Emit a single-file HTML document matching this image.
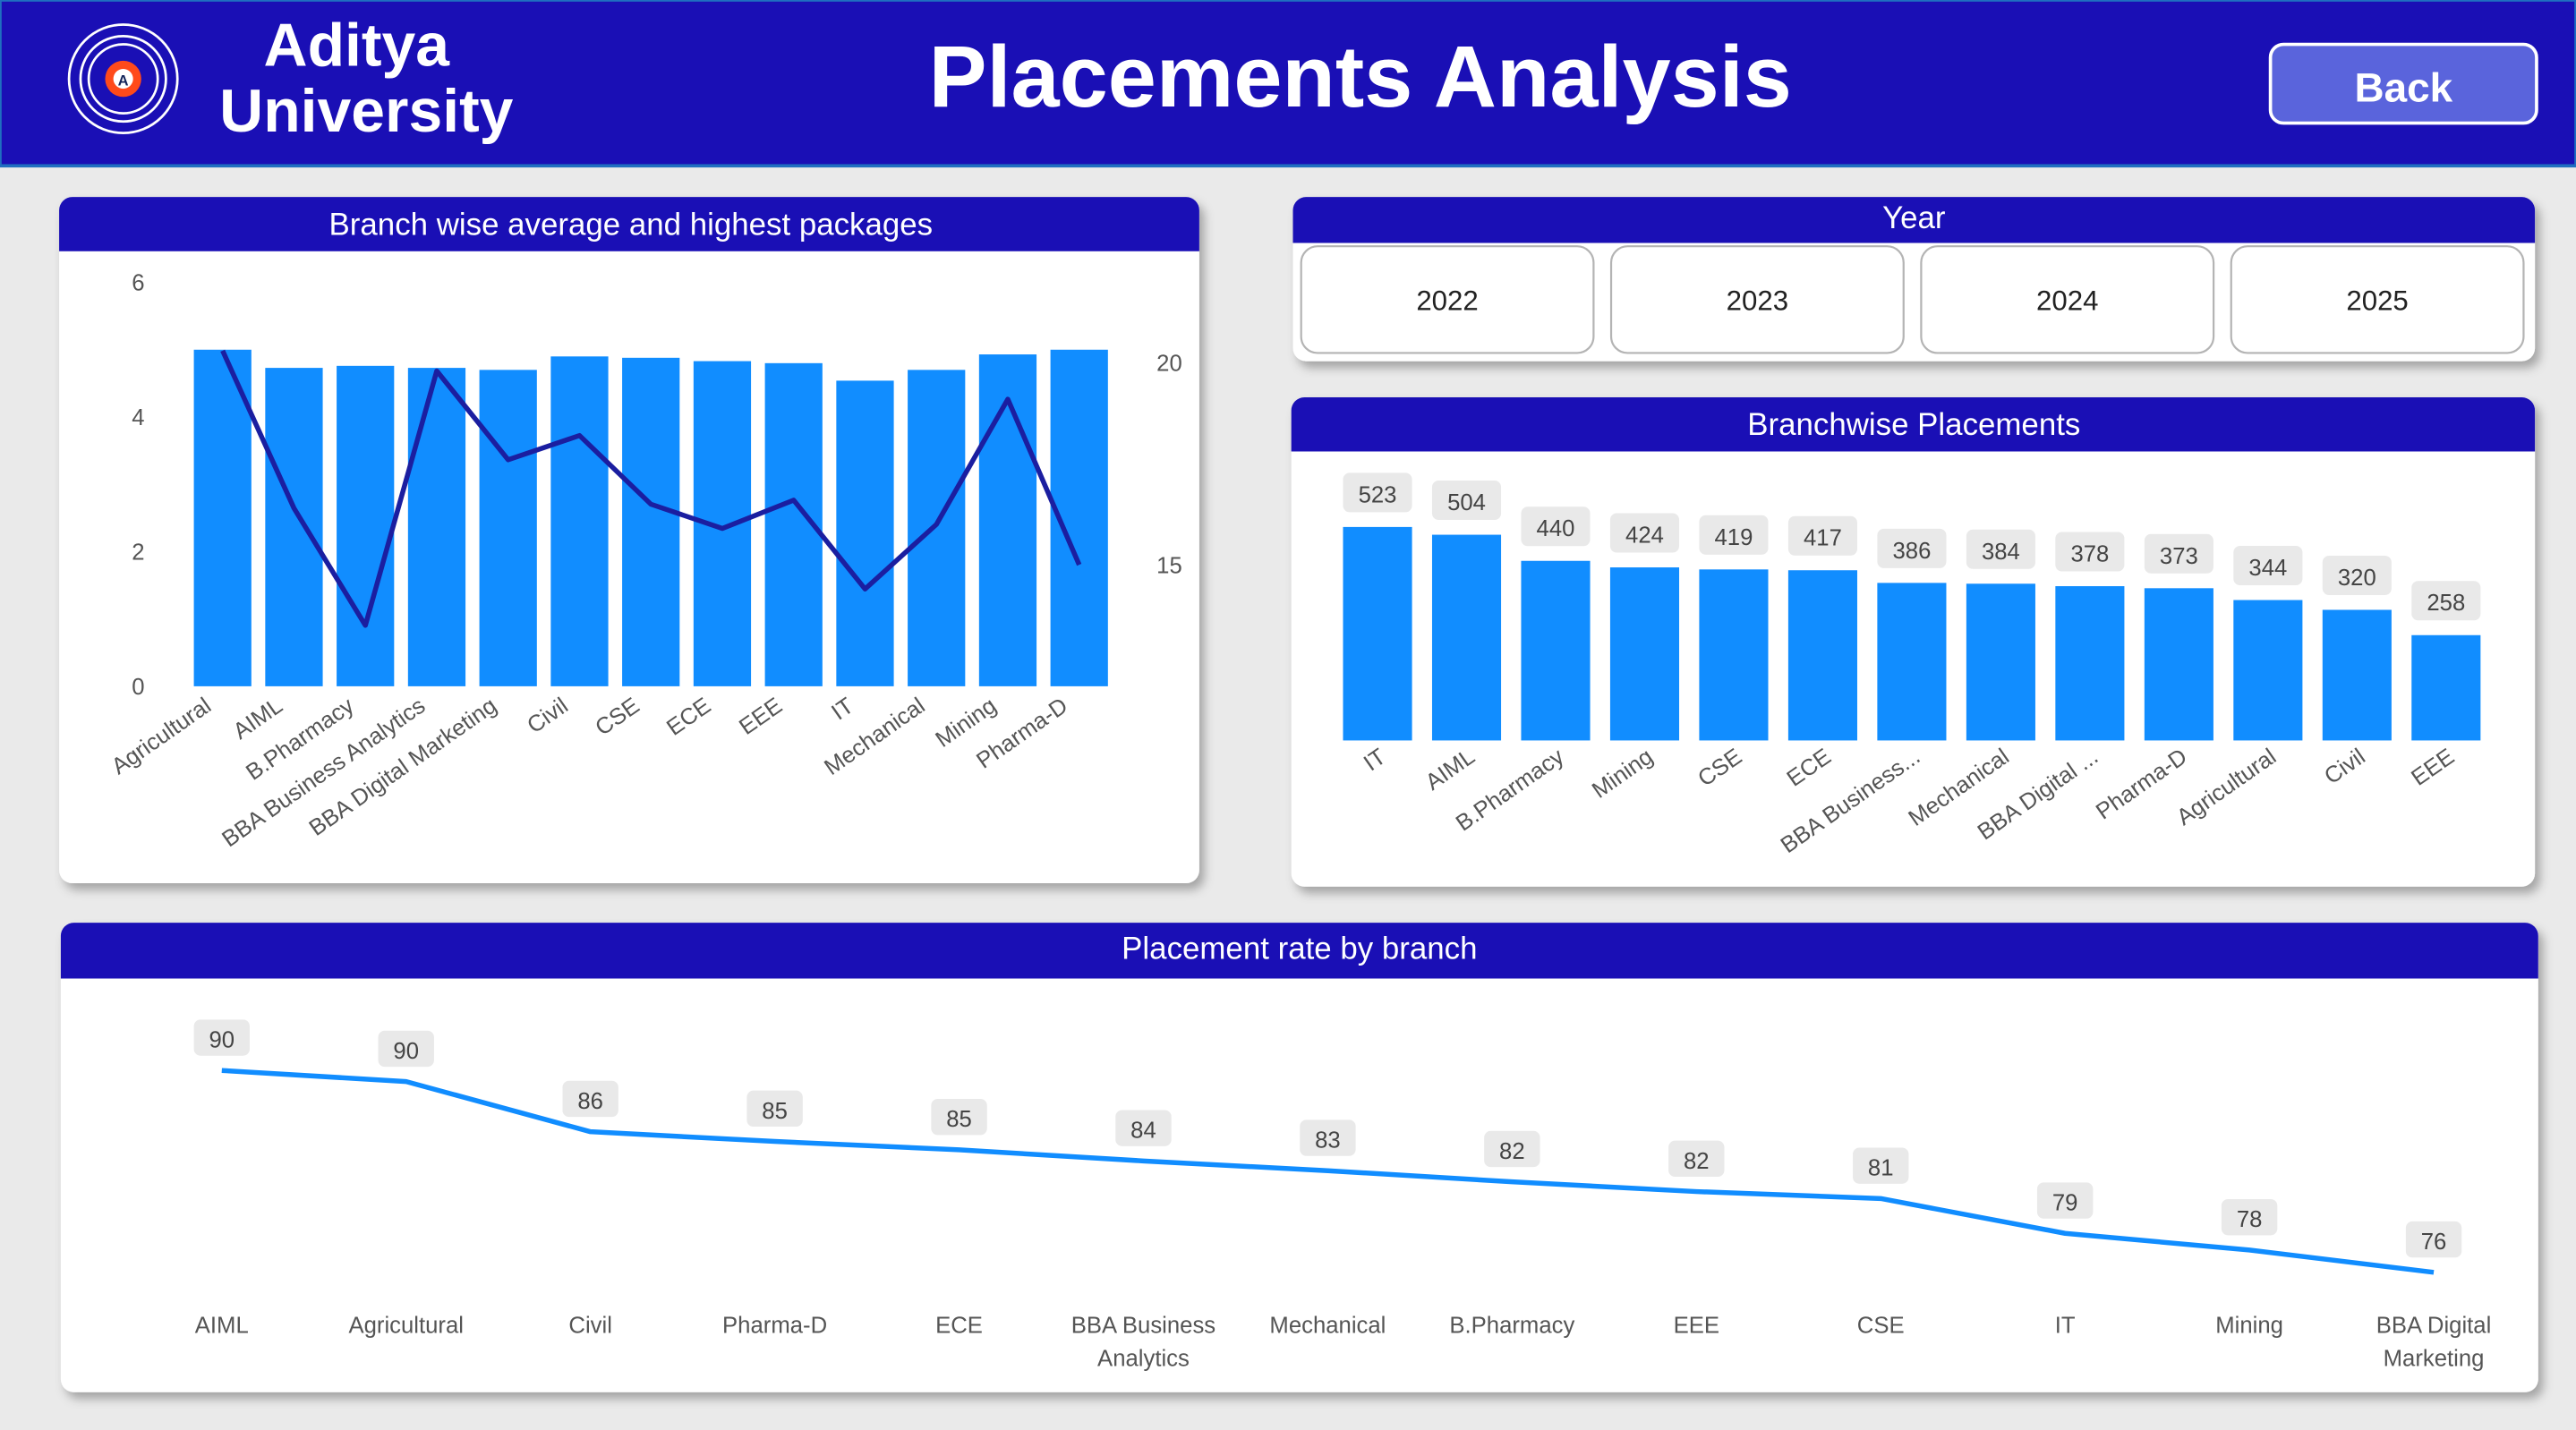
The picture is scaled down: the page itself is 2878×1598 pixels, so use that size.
<!DOCTYPE html>
<html><head><meta charset="utf-8"><style>
html,body{margin:0;padding:0;background:#eaeaea;overflow:hidden}
svg{display:block;font-family:"Liberation Sans","DejaVu Sans",sans-serif}
</style></head><body>
<svg id="s" width="2878" height="1598" viewBox="0 0 1568 871" preserveAspectRatio="none" xmlns="http://www.w3.org/2000/svg">
<defs><filter id="sh" x="-5%" y="-5%" width="110%" height="115%"><feDropShadow dx="3" dy="4" stdDeviation="3" flood-color="#000" flood-opacity="0.3"/></filter></defs>
<rect x="0" y="0" width="1568" height="871" fill="#eaeaea"/>
<g>
<rect x="0" y="0" width="1568" height="101" fill="#1a0fb5" stroke="#1f6fc0" stroke-width="2"/>
<g fill="none" stroke="#fff" stroke-width="1.5">
<circle cx="75" cy="48" r="33"/><circle cx="75" cy="48" r="26"/><circle cx="75" cy="48" r="21"/>
<circle cx="75" cy="48" r="11" fill="#ff4a1a" stroke="none"/><circle cx="75" cy="48" r="6" fill="#fff" stroke="none"/>
<text x="75" y="52" font-size="9" font-weight="bold" fill="#12245a" stroke="none" text-anchor="middle">A</text>
</g>
<text x="217" y="40" font-size="37" font-weight="bold" fill="#fff" text-anchor="middle">Aditya</text>
<text x="223" y="80" font-size="37" font-weight="bold" fill="#fff" text-anchor="middle">University</text>
<text x="828" y="65" font-size="53" font-weight="bold" fill="#fff" text-anchor="middle">Placements Analysis</text>
<g>
<rect x="1382" y="27" width="162" height="48" rx="8" fill="#5a64dc" stroke="#fff" stroke-width="2"/>
<text x="1463" y="62" font-size="25" font-weight="bold" fill="#fff" text-anchor="middle">Back</text></g>
</g>

<g>
<rect x="36" y="120" width="694" height="418" rx="8" fill="#fff" filter="url(#sh)"/>
<path d="M36 153 V128 a8 8 0 0 1 8 -8 H722 a8 8 0 0 1 8 8 V153 Z" fill="#1a0fb5"/>
<text x="384" y="143" font-size="19" fill="#fff" text-anchor="middle">Branch wise average and highest packages</text>
<g id="c1"></g></g>

<g>
<rect x="787" y="120" width="756" height="100" rx="8" fill="#fff" filter="url(#sh)"/>
<path d="M787 148 V128 a8 8 0 0 1 8 -8 H1535 a8 8 0 0 1 8 8 V148 Z" fill="#1a0fb5"/>
<text x="1165" y="139" font-size="19" fill="#fff" text-anchor="middle">Year</text>
<g id="yrs"></g></g>

<g>
<rect x="786" y="242" width="757" height="298" rx="8" fill="#fff" filter="url(#sh)"/>
<path d="M786 275 V250 a8 8 0 0 1 8 -8 H1535 a8 8 0 0 1 8 8 V275 Z" fill="#1a0fb5"/>
<text x="1165" y="265" font-size="19" fill="#fff" text-anchor="middle">Branchwise Placements</text>
<g id="c2"></g></g>

<g>
<rect x="37" y="562" width="1508" height="286" rx="8" fill="#fff" filter="url(#sh)"/>
<path d="M37 596 V570 a8 8 0 0 1 8 -8 H1537 a8 8 0 0 1 8 8 V596 Z" fill="#1a0fb5"/>
<text x="791" y="584" font-size="19" fill="#fff" text-anchor="middle">Placement rate by branch</text>
<g id="c3"></g></g>
</svg>
<script>
const c1Cats=["Agricultural","AIML","B.Pharmacy","BBA Business Analytics","BBA Digital Marketing","Civil","CSE","ECE","EEE","IT","Mechanical","Mining","Pharma-D"];
const c1Avg=[5.0,4.73,4.76,4.73,4.7,4.9,4.88,4.83,4.8,4.54,4.7,4.93,5.0];
const c1High=[20.3,16.4,13.5,19.8,17.6,18.2,16.5,15.9,16.6,14.4,16.0,19.1,15.0];
const c1LeftTicks=[0,2,4,6];
const c1RightTicks=[15,20];
const c2Cats=["IT","AIML","B.Pharmacy","Mining","CSE","ECE","BBA Business...","Mechanical","BBA Digital ...","Pharma-D","Agricultural","Civil","EEE"];
const c2Vals=[523,504,440,424,419,417,386,384,378,373,344,320,258];
const c3Cats=["AIML","Agricultural","Civil","Pharma-D","ECE","BBA Business|Analytics","Mechanical","B.Pharmacy","EEE","CSE","IT","Mining","BBA Digital|Marketing"];
const c3Vals=[90.4,89.6,86.0,85.3,84.7,83.9,83.2,82.4,81.7,81.2,78.7,77.5,75.9];
const years=["2022","2023","2024","2025"];
const NS="http://www.w3.org/2000/svg";
function mk(p,t,a,txt){const e=document.createElementNS(NS,t);for(const k in a)e.setAttribute(k,a[k]);if(txt!=null)e.textContent=txt;p.appendChild(e);return e;}
// years
const yg=document.getElementById('yrs');
years.forEach((y,i)=>{const g=mk(yg,'g',{});


const x=792+i*188.7;mk(g,'rect',{x:x,y:150,width:178,height:65,rx:10,fill:'#fff',stroke:'#b4b4b4','stroke-width':1.2});
mk(g,'text',{x:x+89,y:189,'font-size':17,fill:'#222','text-anchor':'middle'},y);});
// chart1
const g1=document.getElementById('c1');
const yL=v=>418-v*41, yR=v=>221+(20-v)*24.6, x1=i=>135.5+i*43.45;
c1LeftTicks.forEach(t=>{const e=mk(g1,'text',{x:88,y:yL(t)+5,'font-size':14,fill:'#555','text-anchor':'end'},t);
});
c1RightTicks.forEach(t=>{const e=mk(g1,'text',{x:704,y:yR(t)+5,'font-size':14,fill:'#555'},t);
});
c1Cats.forEach((c,i)=>{const r=mk(g1,'rect',{x:x1(i)-17.5,y:yL(c1Avg[i]),width:35,height:418-yL(c1Avg[i]),fill:'#118dff'});

const t=mk(g1,'text',{x:0,y:0,'font-size':14,fill:'#555','text-anchor':'end',transform:`translate(${x1(i)-6},${432}) rotate(-35)`},c);
});
const ln=mk(g1,'polyline',{points:c1High.map((v,i)=>x1(i)+','+yR(v)).join(' '),fill:'none',stroke:'#1b1ea0','stroke-width':3,'stroke-linejoin':'round'});

// chart2
const g2=document.getElementById('c2');
const x2=i=>838.5+i*54.2, y2=v=>451-v*0.2486;
c2Cats.forEach((c,i)=>{const b=mk(g2,'rect',{x:x2(i)-21,y:y2(c2Vals[i]),width:42,height:451-y2(c2Vals[i]),fill:'#118dff'});

const lb=mk(g2,'rect',{x:x2(i)-21,y:y2(c2Vals[i])-33,width:42,height:24,rx:4,fill:'#e9e9e9'});

const v=mk(g2,'text',{x:x2(i),y:y2(c2Vals[i])-15,'font-size':14,fill:'#444','text-anchor':'middle'},c2Vals[i]);

const t=mk(g2,'text',{x:0,y:0,'font-size':14,fill:'#555','text-anchor':'end',transform:`translate(${x2(i)+6},${463}) rotate(-35)`},c);
});
// chart3
const g3=document.getElementById('c3');
const x3=i=>135+i*112.2, y3=v=>652+(90.4-v)*8.48;
const pl=mk(g3,'polyline',{points:c3Vals.map((v,i)=>x3(i)+','+y3(v)).join(' '),fill:'none',stroke:'#118dff','stroke-width':3,'stroke-linejoin':'round'});

c3Cats.forEach((c,i)=>{const lb=mk(g3,'rect',{x:x3(i)-17,y:y3(c3Vals[i])-31,width:34,height:22,rx:4,fill:'#e9e9e9'});

const v=mk(g3,'text',{x:x3(i),y:y3(c3Vals[i])-14,'font-size':14,fill:'#444','text-anchor':'middle'},Math.round(c3Vals[i]));

c.split('|').forEach((part,k)=>{const t=mk(g3,'text',{x:x3(i),y:812+k*20,'font-size':14,fill:'#555','text-anchor':'middle'},part);
});});
</script>
</body></html>
